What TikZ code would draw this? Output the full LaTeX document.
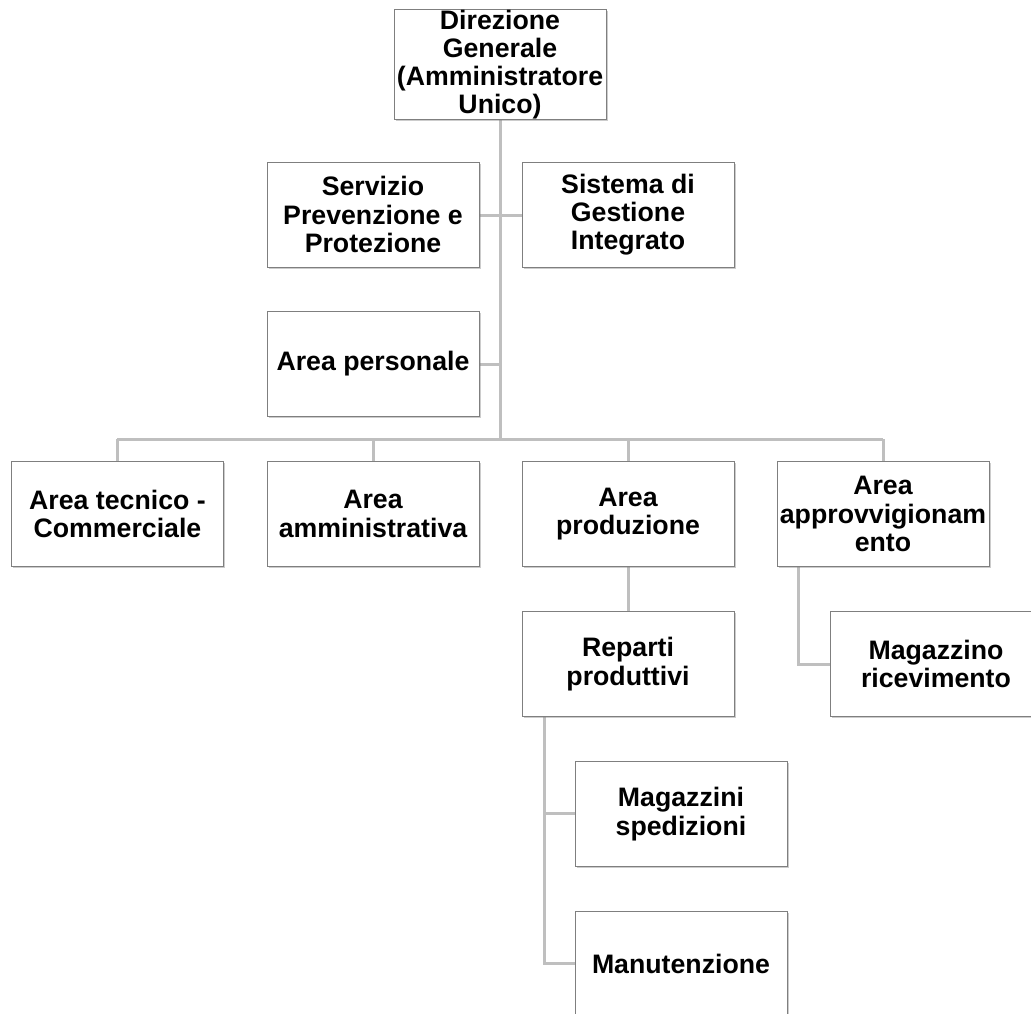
\documentclass[tikz,border=0pt]{standalone}
\usepackage{fontspec}
\setmainfont{Liberation Sans}
\usetikzlibrary{shadows}
\definecolor{conn}{HTML}{BFBFBF}
\definecolor{boxline}{HTML}{7F7F7F}
\begin{document}
\begin{tikzpicture}[x=1pt,y=-1pt,
  orgbox/.style={draw=boxline,line width=0.9pt,fill=white,minimum width=212pt,minimum height=105pt,
    inner sep=0pt,align=center,font=\fontsize{26.7}{28.2}\selectfont\bfseries,
    drop shadow={shadow xshift=1.5pt,shadow yshift=-1.5pt,opacity=0.4,fill=black!50}},
  link/.style={draw=conn,line width=3pt}]
\useasboundingbox (0,0) rectangle (1031,1013);
\clip (0,0) rectangle (1031,1013);
\fill[white] (0,0) rectangle (1031,1013);
% connectors first
\coordinate (bus) at (500,439);
\coordinate (busL) at (117,439);
\coordinate (busR) at (883,439);
\draw[link] (500,117) -- (bus);
\draw[link] (busL) -- (busR);
\draw[link] (479,215) -- (522,215);
\draw[link] (479,364) -- (500,364);
\draw[link] (117,439) -- (117,461);
\draw[link] (373,439) -- (373,461);
\draw[link] (628,439) -- (628,461);
\draw[link] (883,439) -- (883,461);
\draw[link] (628,567) -- (628,611);
\draw[link] (798,567) -- (798,664) -- (830,664);
\draw[link] (544,717) -- (544,963) -- (575,963);
\draw[link] (544,813) -- (575,813);
% boxes
\node[orgbox] (dg) at (500,64.5) {Direzione\\Generale\\(Amministratore\\Unico)};
\node[orgbox] (spp) at (373,214.5) {Servizio\\Prevenzione e\\Protezione};
\node[orgbox] (sgi) at (628,214.5) {Sistema di\\Gestione\\Integrato};
\node[orgbox] (ap) at (373,364) {Area personale};
\node[orgbox] (atc) at (117.5,514) {Area tecnico -\\Commerciale};
\node[orgbox] (aa) at (373,514) {Area\\amministrativa};
\node[orgbox] (apr) at (628,514) {Area\\produzione};
\node[orgbox] (aap) at (883,514) {Area\\approvvigionam\\ento};
\node[orgbox] (rp) at (628,664) {Reparti\\produttivi};
\node[orgbox] (mr) at (936,664) {Magazzino\\ricevimento};
\node[orgbox] (ms) at (681,814) {Magazzini\\spedizioni};
\node[orgbox] (man) at (681,963.5) {Manutenzione};
\end{tikzpicture}
\end{document}
